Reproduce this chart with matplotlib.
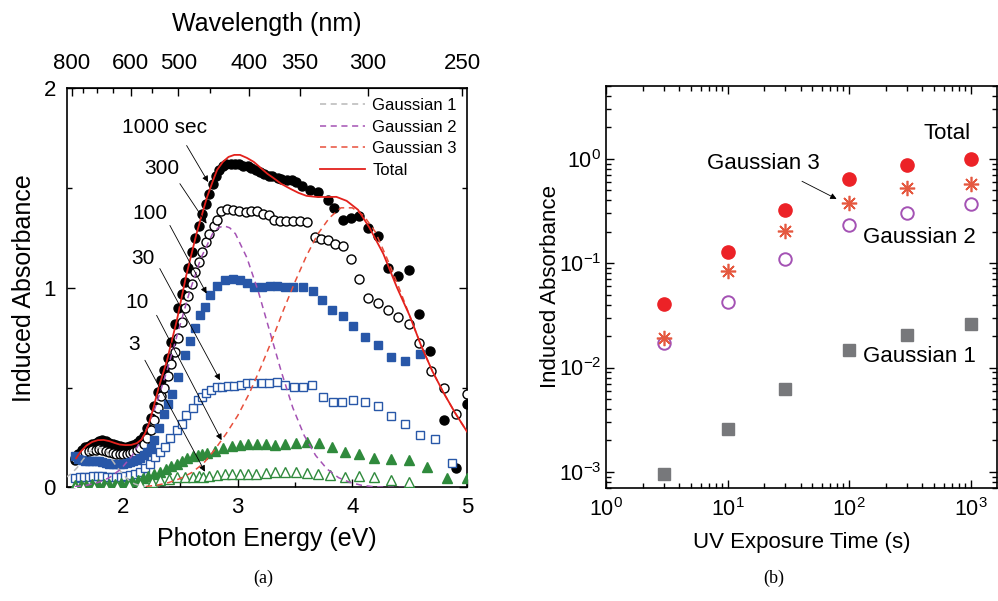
import numpy as np
import matplotlib.pyplot as plt
from matplotlib.ticker import MultipleLocator, FixedLocator, NullFormatter

plt.rcParams['font.family'] = ['Liberation Sans', 'DejaVu Sans']

# ---------------- (a) induced absorbance spectra ----------------
e_1000 = [1.58, 1.61, 1.64, 1.67, 1.70, 1.73, 1.76, 1.79, 1.82, 1.85, 1.88, 1.91,
          1.94, 1.97, 2.00, 2.03, 2.06, 2.09, 2.12, 2.15, 2.18, 2.21, 2.24, 2.27,
          2.30, 2.33, 2.36, 2.39, 2.42, 2.45, 2.48, 2.51, 2.54, 2.57, 2.60, 2.63,
          2.66, 2.69, 2.72, 2.75, 2.78, 2.81, 2.84, 2.87, 2.90, 2.94, 2.98, 3.01,
          3.05, 3.09, 3.12, 3.16, 3.19, 3.23, 3.27, 3.30, 3.35, 3.38, 3.43, 3.47,
          3.51, 3.56, 3.63, 3.70, 3.79, 3.84, 3.92, 3.99, 4.06, 4.14, 4.22, 4.31,
          4.40, 4.49, 4.585, 4.68, 4.80, 4.906, 5.0]
a_1000 = [0.14, 0.17, 0.19, 0.205, 0.21, 0.22, 0.225, 0.235, 0.24, 0.235, 0.225, 0.22,
          0.215, 0.21, 0.205, 0.205, 0.21, 0.215, 0.225, 0.24, 0.26, 0.30, 0.35, 0.41,
          0.48, 0.54, 0.59, 0.65, 0.73, 0.82, 0.90, 0.97, 1.03, 1.10, 1.18, 1.25,
          1.31, 1.37, 1.42, 1.47, 1.52, 1.56, 1.59, 1.61, 1.62, 1.62, 1.62, 1.62,
          1.61, 1.61, 1.60, 1.59, 1.58, 1.57, 1.56, 1.56, 1.55, 1.545, 1.54, 1.54,
          1.53, 1.51, 1.49, 1.48, 1.44, 1.40, 1.34, 1.35, 1.36, 1.30, 1.26, 1.10,
          1.06, 1.09, 0.866, 0.684, 0.34, 0.096, 0.42]

e_300 = [1.58, 1.61, 1.64, 1.67, 1.70, 1.73, 1.76, 1.79, 1.82, 1.85, 1.88, 1.91,
         1.94, 1.97, 2.00, 2.03, 2.06, 2.09, 2.12, 2.15, 2.18, 2.21, 2.24, 2.27,
         2.30, 2.33, 2.36, 2.39, 2.42, 2.45, 2.48, 2.51, 2.54, 2.57, 2.60, 2.63,
         2.66, 2.69, 2.72, 2.75, 2.79, 2.82, 2.85, 2.91, 2.96, 3.01, 3.07, 3.12,
         3.17, 3.22, 3.27, 3.32, 3.37, 3.42, 3.48, 3.54, 3.60, 3.67, 3.73, 3.79,
         3.85, 3.92, 3.99, 4.06, 4.14, 4.22, 4.31, 4.40, 4.49, 4.585, 4.685, 4.80,
         4.906, 5.0]
a_300 = [0.15, 0.16, 0.17, 0.18, 0.185, 0.19, 0.19, 0.195, 0.19, 0.185, 0.18, 0.175,
         0.17, 0.17, 0.17, 0.17, 0.175, 0.18, 0.19, 0.20, 0.22, 0.25, 0.29, 0.34,
         0.40, 0.46, 0.50, 0.56, 0.62, 0.68, 0.75, 0.83, 0.90, 0.96, 1.02, 1.08,
         1.13, 1.18, 1.23, 1.27, 1.31, 1.34, 1.385, 1.395, 1.39, 1.385, 1.38, 1.385,
         1.385, 1.37, 1.365, 1.34, 1.335, 1.335, 1.335, 1.335, 1.33, 1.255, 1.245, 1.24,
         1.22, 1.21, 1.145, 1.045, 0.95, 0.925, 0.89, 0.855, 0.82, 0.724, 0.584, 0.496,
         0.368, 0.47]

e_100 = [1.58, 1.61, 1.64, 1.67, 1.70, 1.73, 1.76, 1.79, 1.82, 1.85, 1.88, 1.91,
         1.94, 1.97, 2.00, 2.03, 2.06, 2.09, 2.12, 2.15, 2.18, 2.21, 2.24, 2.27,
         2.31, 2.36, 2.39, 2.43, 2.48, 2.54, 2.58, 2.63, 2.67, 2.71, 2.757, 2.821,
         2.888, 2.955, 3.019, 3.083, 3.144, 3.208, 3.281, 3.345, 3.412, 3.485, 3.567, 3.654,
         3.733, 3.82, 3.92, 4.01, 4.111, 4.22, 4.338, 4.461, 4.586]
a_100 = [0.16, 0.145, 0.14, 0.135, 0.135, 0.135, 0.135, 0.135, 0.13, 0.125, 0.12, 0.12,
         0.12, 0.12, 0.12, 0.125, 0.13, 0.135, 0.14, 0.15, 0.165, 0.18, 0.20, 0.24,
         0.30, 0.37, 0.42, 0.47, 0.554, 0.662, 0.734, 0.80, 0.862, 0.904, 0.962, 1.007,
         1.037, 1.046, 1.04, 1.024, 1.004, 1.004, 1.007, 1.007, 1.004, 1.004, 1.004, 0.984,
         0.94, 0.89, 0.86, 0.81, 0.754, 0.711, 0.654, 0.634, 0.668]

e_30 = [1.58, 1.62, 1.66, 1.70, 1.74, 1.78, 1.82, 1.86, 1.90, 1.94, 1.98, 2.02,
        2.06, 2.10, 2.146, 2.19, 2.233, 2.277, 2.32, 2.364, 2.41, 2.466, 2.51, 2.55,
        2.61, 2.65, 2.684, 2.722, 2.766, 2.815, 2.865, 2.917, 2.970, 3.025, 3.077, 3.136,
        3.208, 3.275, 3.345, 3.412, 3.49, 3.567, 3.645, 3.741, 3.829, 3.907, 4.009, 4.111,
        4.22, 4.338, 4.461, 4.586, 4.72, 4.868]
a_30 = [0.045, 0.05, 0.052, 0.054, 0.055, 0.056, 0.055, 0.054, 0.053, 0.052, 0.053, 0.055,
        0.06, 0.068, 0.079, 0.096, 0.12, 0.154, 0.179, 0.204, 0.246, 0.288, 0.32, 0.362,
        0.396, 0.437, 0.454, 0.471, 0.488, 0.501, 0.504, 0.508, 0.509, 0.512, 0.521, 0.524,
        0.524, 0.524, 0.529, 0.512, 0.504, 0.501, 0.512, 0.451, 0.429, 0.429, 0.437, 0.429,
        0.409, 0.357, 0.316, 0.262, 0.242, 0.124]

e_10 = [1.58, 1.63, 1.68, 1.73, 1.78, 1.83, 1.88, 1.93, 1.98, 2.03, 2.08, 2.13,
        2.175, 2.22, 2.27, 2.32, 2.37, 2.42, 2.466, 2.51, 2.56, 2.61, 2.65, 2.684,
        2.734, 2.80, 2.873, 2.946, 3.019, 3.092, 3.165, 3.243, 3.325, 3.412, 3.508, 3.601,
        3.709, 3.82, 3.936, 4.062, 4.193, 4.338, 4.49, 4.655, 4.83, 5.0]
a_10 = [0.01, 0.012, 0.014, 0.015, 0.016, 0.016, 0.017, 0.018, 0.02, 0.024, 0.03, 0.038,
        0.046, 0.056, 0.067, 0.079, 0.092, 0.106, 0.12, 0.134, 0.148, 0.16, 0.165, 0.168,
        0.171, 0.184, 0.20, 0.208, 0.212, 0.218, 0.218, 0.218, 0.212, 0.218, 0.221, 0.229,
        0.224, 0.204, 0.18, 0.167, 0.15, 0.145, 0.14, 0.104, 0.046, 0.046]

e_3 = [1.58, 1.65, 1.75, 1.85, 1.95, 2.05, 2.15, 2.25, 2.32, 2.40, 2.466, 2.54,
       2.61, 2.66, 2.699, 2.75, 2.815, 2.887, 2.952, 3.016, 3.089, 3.162, 3.243, 3.322,
       3.41, 3.507, 3.60, 3.70, 3.808, 3.936, 4.062, 4.193, 4.338, 4.49]
a_3 = [0.0, 0.0, 0.002, 0.004, 0.006, 0.01, 0.016, 0.025, 0.035, 0.043, 0.05, 0.053,
       0.054, 0.055, 0.054, 0.057, 0.062, 0.068, 0.068, 0.068, 0.068, 0.068, 0.071, 0.079,
       0.079, 0.079, 0.071, 0.068, 0.062, 0.054, 0.057, 0.054, 0.038, 0.029]

# fitted components
e_g1 = [1.50, 1.55, 1.60, 1.65, 1.70, 1.75, 1.80, 1.85, 1.90, 1.95, 2.00, 2.05,
        2.10, 2.15, 2.25, 2.40]
a_g1 = [0.05, 0.07, 0.10, 0.14, 0.175, 0.195, 0.20, 0.185, 0.14, 0.10, 0.065, 0.035,
        0.018, 0.008, 0.0, 0.0]

e_g2 = [1.58, 1.68, 1.78, 1.88, 1.98, 2.08, 2.18, 2.28, 2.38, 2.48, 2.58, 2.68,
        2.78, 2.83, 2.88, 2.93, 2.98, 3.08, 3.18, 3.28, 3.38, 3.48, 3.58, 3.68,
        3.78, 3.88, 3.98, 4.08, 4.18, 4.30, 4.50]
a_g2 = [0.004, 0.011, 0.025, 0.049, 0.092, 0.16, 0.26, 0.40, 0.58, 0.78, 0.98, 1.15,
        1.27, 1.30, 1.31, 1.30, 1.27, 1.15, 0.98, 0.78, 0.58, 0.40, 0.26, 0.16,
        0.092, 0.049, 0.025, 0.011, 0.004, 0.001, 0.0]

e_g3 = [2.20, 2.30, 2.40, 2.50, 2.60, 2.70, 2.80, 2.90, 3.00, 3.10, 3.20, 3.30,
        3.40, 3.50, 3.60, 3.70, 3.80, 3.90, 4.00, 4.10, 4.20, 4.30, 4.40, 4.50,
        4.60, 4.70, 4.80, 4.90, 5.00]
a_g3 = [0.005, 0.012, 0.025, 0.045, 0.075, 0.12, 0.19, 0.27, 0.36, 0.47, 0.60, 0.74,
        0.89, 1.03, 1.16, 1.27, 1.35, 1.40, 1.40, 1.36, 1.28, 1.15, 1.01, 0.86,
        0.71, 0.58, 0.47, 0.37, 0.28]

e_tot = [1.59, 1.63, 1.68, 1.73, 1.78, 1.83, 1.88, 1.93, 1.97, 2.02, 2.07, 2.12,
         2.16, 2.19, 2.22, 2.26, 2.31, 2.38, 2.47, 2.55, 2.64, 2.73, 2.78, 2.82,
         2.87, 2.92, 2.97, 3.02, 3.08, 3.14, 3.20, 3.26, 3.31, 3.38, 3.46, 3.53,
         3.60, 3.68, 3.78, 3.86, 3.95, 4.05, 4.15, 4.27, 4.39, 4.50, 4.60, 4.70,
         4.80, 4.90, 5.00]
a_tot = [0.146, 0.18, 0.21, 0.228, 0.237, 0.238, 0.232, 0.222, 0.215, 0.212, 0.213, 0.222,
         0.24, 0.27, 0.31, 0.39, 0.50, 0.63, 0.84, 1.06, 1.27, 1.45, 1.53, 1.59,
         1.63, 1.655, 1.665, 1.665, 1.65, 1.63, 1.60, 1.57, 1.55, 1.52, 1.495, 1.475,
         1.46, 1.455, 1.454, 1.455, 1.435, 1.39, 1.30, 1.17, 1.00, 0.86, 0.71, 0.58,
         0.47, 0.37, 0.28]

# ---------------- (b) growth with exposure time ----------------
t_exp = [3, 10, 30, 100, 300, 1000]
b_total = [0.041, 0.128, 0.323, 0.64, 0.87, 1.0]
b_g3 = [0.0193, 0.084, 0.205, 0.375, 0.52, 0.58]
b_g2 = [0.0173, 0.0425, 0.109, 0.234, 0.305, 0.372]
b_g1 = [0.00095, 0.0026, 0.0062, 0.0146, 0.0204, 0.026]

fig = plt.figure(figsize=(9.98, 6.01), dpi=100)
ax = fig.add_axes([0.0671, 0.1889, 0.4008, 0.6647])

blue = '#2857a8'
green = '#2f8a3c'
ms = 6.5
ax.plot(e_1000, a_1000, 'o', color='black', ms=ms, zorder=2)
ax.plot(e_300, a_300, 'o', mfc='white', mec='black', mew=1.0, ms=ms, zorder=3)
ax.plot(e_100, a_100, 's', color=blue, ms=5.8, zorder=3)
ax.plot(e_30, a_30, 's', mfc='white', mec=blue, mew=1.0, ms=5.8, zorder=3)
ax.plot(e_10, a_10, '^', color=green, ms=6.8, zorder=3)
ax.plot(e_3, a_3, '^', mfc='white', mec=green, mew=1.0, ms=6.8, zorder=4)

ax.plot(e_g1, a_g1, '--', color='#b8b8b8', lw=1.1, dashes=(4, 3), label='Gaussian 1', zorder=5)
ax.plot(e_g2, a_g2, '--', color='#a452b4', lw=1.1, dashes=(4, 3), label='Gaussian 2', zorder=5)
ax.plot(e_g3, a_g3, '--', color='#e8503c', lw=1.1, dashes=(4, 3), label='Gaussian 3', zorder=5)
ax.plot(e_tot, a_tot, '-', color='#e3211c', lw=1.3, label='Total', zorder=6)

ax.set_xlim(1.51, 5.0)
ax.set_ylim(0, 2)
ax.xaxis.set_major_locator(FixedLocator([2, 3, 4, 5]))
ax.xaxis.set_minor_locator(MultipleLocator(0.5))
ax.yaxis.set_major_locator(FixedLocator([0, 1, 2]))
ax.yaxis.set_minor_locator(MultipleLocator(0.5))
ax.tick_params(which='both', direction='in', top=False, right=True, labelsize=16)
ax.tick_params(which='major', length=6, width=1)
ax.tick_params(which='minor', length=3.5, width=1)
ax.tick_params(axis='x', pad=7)
ax.tick_params(axis='y', pad=8)
ax.set_xlabel('Photon Energy (eV)', fontsize=18, labelpad=6)
ax.set_ylabel('Induced Absorbance', fontsize=18, labelpad=5)
for sp in ax.spines.values():
    sp.set_linewidth(1.2)

sec = ax.secondary_xaxis('top', functions=(lambda e: 1240.0 / e, lambda l: 1240.0 / l))
sec.xaxis.set_major_locator(FixedLocator([800, 600, 500, 400, 350, 300, 250]))
sec.xaxis.set_minor_locator(FixedLocator([750, 700, 650, 550, 450]))
sec.xaxis.set_minor_formatter(NullFormatter())
sec.tick_params(which='both', direction='in', labelsize=16, pad=10)
sec.tick_params(which='major', length=6, width=1)
sec.tick_params(which='minor', length=3.5, width=1)
sec.set_xlabel('Wavelength (nm)', fontsize=18, labelpad=16)

leg = ax.legend(loc='upper right', frameon=False, fontsize=12, handlelength=2.7,
                handletextpad=0.45, labelspacing=0.4, borderaxespad=0.2)

# exposure-time labels with arrows
times = ['1000 sec', '300', '100', '30', '10', '3']
label_xy = [(2.364, 1.804), (2.335, 1.596), (2.233, 1.371), (2.175, 1.146), (2.122, 0.924), (2.093, 0.716)]
arrow_from = [(2.554, 1.712), (2.495, 1.521), (2.408, 1.312), (2.32, 1.096), (2.292, 0.862), (2.19, 0.637)]
arrow_to = [(2.742, 1.529), (2.728, 1.321), (2.728, 0.971), (2.845, 0.537), (2.859, 0.237), (2.714, 0.079)]
for lab, pos, p0, p1 in zip(times, label_xy, arrow_from, arrow_to):
    ax.text(pos[0], pos[1], lab, fontsize=15, ha='center', va='center', zorder=7)
    ax.annotate('', xy=p1, xytext=p0,
                arrowprops=dict(arrowstyle='-|>', color='black', lw=0.6,
                                mutation_scale=9, shrinkA=0, shrinkB=0), zorder=7)

fig.text(0.264, 0.038, '(a)', fontsize=13, ha='center', va='center', family='Liberation Serif')

# ---------------- panel (b) ----------------
bx = fig.add_axes([0.6072, 0.188, 0.3918, 0.669])
bx.set_xscale('log')
bx.set_yscale('log')
bx.plot(t_exp, b_g1, 's', color='#77787b', ms=8, zorder=3)
bx.plot(t_exp, b_g2, 'o', mfc='none', mec='#a452b4', mew=1.4, ms=9, zorder=3)
bx.plot(t_exp, b_g3, marker=(8, 2, 0), ls='none', color='#e5583f', mew=1.2, ms=11, zorder=4)
bx.plot(t_exp, b_total, 'o', color='#ec2227', ms=9.5, zorder=4)

bx.set_xlim(1, 1650)
bx.set_ylim(7e-4, 5)
bx.tick_params(which='both', direction='in', top=True, right=True, labelsize=15.5)
bx.tick_params(which='major', length=6, width=1)
bx.tick_params(which='minor', length=3.5, width=1)
bx.tick_params(axis='x', pad=7)
bx.set_xlabel('UV Exposure Time (s)', fontsize=16, labelpad=8)
bx.set_ylabel('Induced Absorbance', fontsize=16, labelpad=-2)
for sp in bx.spines.values():
    sp.set_linewidth(1.2)

bx.text(637, 1.74, 'Total', fontsize=16, ha='center', va='center')
bx.text(19.6, 0.895, 'Gaussian 3', fontsize=16, ha='center', va='center')
bx.annotate('', xy=(79, 0.413), xytext=(41, 0.61),
            arrowprops=dict(arrowstyle='-|>', color='black', lw=0.6,
                            mutation_scale=9, shrinkA=0, shrinkB=0))
bx.text(377, 0.178, 'Gaussian 2', fontsize=16, ha='center', va='center')
bx.text(377, 0.0128, 'Gaussian 1', fontsize=16, ha='center', va='center')

fig.text(0.775, 0.038, '(b)', fontsize=13, ha='center', va='center', family='Liberation Serif')

fig.savefig('out.png', dpi=100)
